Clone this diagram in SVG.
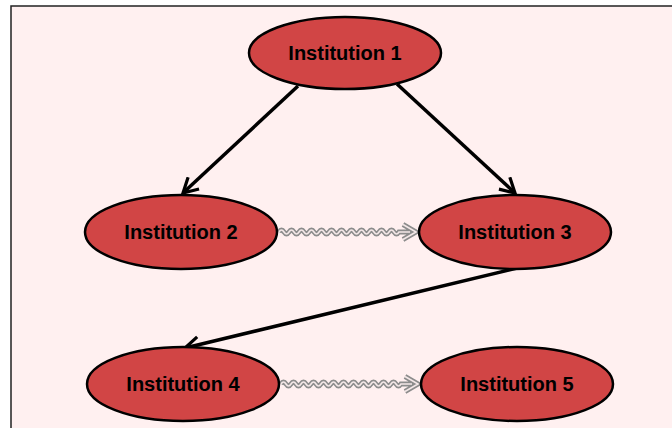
<svg xmlns="http://www.w3.org/2000/svg" width="672" height="428" viewBox="0 0 672 428">
<style>
.node ellipse{fill:#d14545;stroke:#000;stroke-width:2.5}
.node text{font-family:"Liberation Sans",Arial,sans-serif;font-weight:bold;font-size:20px;fill:#000;text-anchor:middle;dominant-baseline:central}
.edge{fill:none;stroke:#000;stroke-width:3.5}
.wave-o{fill:none;stroke:#8c8c8c;stroke-width:5}
.wave-i{fill:none;stroke:#f4e8e8;stroke-width:1.6}
</style>
<defs>
<marker id="ah" viewBox="0 0 12 12" refX="10" refY="6" markerWidth="5.5" markerHeight="5.5" markerUnits="strokeWidth" orient="auto">
<path d="M1,1 L10,6 L1,11" fill="none" stroke="#000" stroke-width="2"/>
</marker>
</defs>
<rect x="0" y="0" width="672" height="428" fill="#fff"/>
<rect x="11" y="6" width="670" height="430" fill="#fff0f0" stroke="#222" stroke-width="1.5"/>
<g id="connectors">
<path class="edge" d="M298,86 L183,193" marker-end="url(#ah)"/>
<path class="edge" d="M397,84 L515,193" marker-end="url(#ah)"/>
<path class="edge" d="M517,268 L185,348" marker-end="url(#ah)"/>
<g id="w23">
<path class="wave-o" d="M279,232 q2.5,-4 5,0 t5,0 t5,0 t5,0 t5,0 t5,0 t5,0 t5,0 t5,0 t5,0 t5,0 t5,0 t5,0 t5,0 t5,0 t5,0 t5,0 t5,0 t5,0 t5,0 t5,0 t5,0 t5,0 t5,0 L413,232 M403,224.5 L416,232 L403,239.5"/>
<path class="wave-i" d="M279,232 q2.5,-4 5,0 t5,0 t5,0 t5,0 t5,0 t5,0 t5,0 t5,0 t5,0 t5,0 t5,0 t5,0 t5,0 t5,0 t5,0 t5,0 t5,0 t5,0 t5,0 t5,0 t5,0 t5,0 t5,0 t5,0 L410,232 M403,224.5 L416,232 L403,239.5"/>
</g>
<g id="w45">
<path class="wave-o" d="M281,384 q2.5,-4 5,0 t5,0 t5,0 t5,0 t5,0 t5,0 t5,0 t5,0 t5,0 t5,0 t5,0 t5,0 t5,0 t5,0 t5,0 t5,0 t5,0 t5,0 t5,0 t5,0 t5,0 t5,0 t5,0 t5,0 L415,384 M405,376.5 L418,384 L405,391.5"/>
<path class="wave-i" d="M281,384 q2.5,-4 5,0 t5,0 t5,0 t5,0 t5,0 t5,0 t5,0 t5,0 t5,0 t5,0 t5,0 t5,0 t5,0 t5,0 t5,0 t5,0 t5,0 t5,0 t5,0 t5,0 t5,0 t5,0 t5,0 t5,0 L412,384 M405,376.5 L418,384 L405,391.5"/>
</g>
</g>
<g id="n1" class="node"><ellipse cx="345" cy="53" rx="96" ry="36"/><text x="345" y="53">Institution 1</text></g>
<g id="n2" class="node"><ellipse cx="181" cy="232" rx="96" ry="37"/><text x="181" y="232">Institution 2</text></g>
<g id="n3" class="node"><ellipse cx="515" cy="232" rx="96" ry="37"/><text x="515" y="232">Institution 3</text></g>
<g id="n4" class="node"><ellipse cx="183" cy="384" rx="96" ry="37"/><text x="183" y="384">Institution 4</text></g>
<g id="n5" class="node"><ellipse cx="517" cy="384" rx="96" ry="37"/><text x="517" y="384">Institution 5</text></g>
</svg>
